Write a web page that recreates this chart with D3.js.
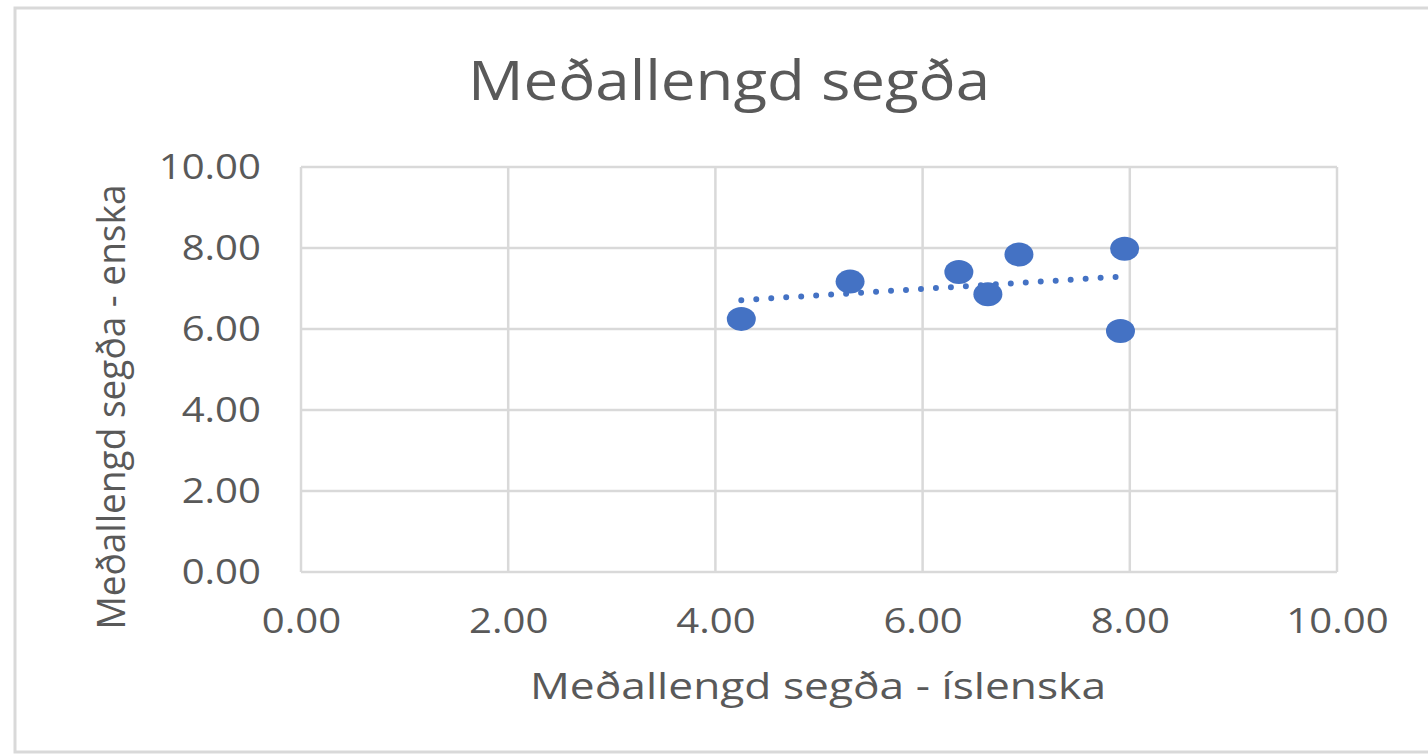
<!DOCTYPE html>
<html>
<head>
<meta charset="utf-8">
<script src="https://cdn.jsdelivr.net/npm/d3@7"></script>
<style>
  html, body { margin: 0; padding: 0; background: #ffffff; }
  svg { display: block; }
  text { font-family: "Open Sans", "Noto Sans", sans-serif; fill: #595959; }
</style>
</head>
<body>
<svg id="chart" width="1428" height="756"></svg>
<script>
// Average sentence length: Icelandic (x) vs English (y)
const islenska = [4.25, 5.30, 6.35, 6.63, 6.93, 7.95, 7.91];
const enska    = [6.25, 7.17, 7.41, 6.86, 7.84, 7.98, 5.95];
const tickValues = [0, 2, 4, 6, 8, 10];

const chartTitle = "Meðallengd segða";
const xTitle = "Meðallengd segða - íslenska";
const yTitle = "Meðallengd segða - enska";

const W = 1428, H = 756;
const plot = { left: 301, right: 1337, top: 167, bottom: 572 };
const gridColor = "#d9d9d9";
const markColor = "#4472C4";
const stretch = 1.18; // horizontal glyph stretch of the chart's text

const svg = d3.select("#chart");

// chart frame
svg.append("rect")
  .attr("x", 15).attr("y", 8)
  .attr("width", W + 20).attr("height", 744)
  .attr("fill", "#ffffff")
  .attr("stroke", gridColor).attr("stroke-width", 3);

const x = d3.scaleLinear().domain([0, 10]).range([plot.left, plot.right]);
const y = d3.scaleLinear().domain([0, 10]).range([plot.bottom, plot.top]);

// gridlines
const grid = svg.append("g");
grid.selectAll("line.v").data(tickValues).join("line")
  .attr("class", "v")
  .attr("x1", d => x(d)).attr("x2", d => x(d))
  .attr("y1", plot.top).attr("y2", plot.bottom)
  .attr("stroke", gridColor).attr("stroke-width", 2.5);
grid.selectAll("line.h").data(tickValues).join("line")
  .attr("class", "h")
  .attr("y1", d => y(d)).attr("y2", d => y(d))
  .attr("x1", plot.left).attr("x2", plot.right)
  .attr("stroke", gridColor).attr("stroke-width", 2.5);

// tick labels via axes (no domain/ticks drawn)
const fmt = d3.format(".2f");
const xAxis = svg.append("g")
  .attr("transform", `translate(0,${plot.bottom})`)
  .call(d3.axisBottom(x).tickValues(tickValues).tickFormat(fmt).tickSize(0).tickPadding(0));
xAxis.select(".domain").remove();
xAxis.selectAll("text")
  .attr("y", 61).attr("dy", null)
  .style("font-size", "34px").attr("fill", "#595959");

const yAxis = svg.append("g")
  .attr("transform", `translate(${plot.left},0)`)
  .call(d3.axisLeft(y).tickValues(tickValues).tickFormat(fmt).tickSize(0).tickPadding(0));
yAxis.select(".domain").remove();
yAxis.selectAll("text")
  .attr("x", -40).attr("dy", "0.35em")
  .style("font-size", "34px").attr("fill", "#595959");
xAxis.attr("font-family", null).attr("font-size", null);
yAxis.attr("font-family", null).attr("font-size", null);

// trendline (least squares over the data)
const mx = d3.mean(islenska), my = d3.mean(enska);
const sxy = d3.sum(islenska, (v, i) => (v - mx) * (enska[i] - my));
const sxx = d3.sum(islenska, v => (v - mx) * (v - mx));
const slope = sxy / sxx, intercept = my - slope * mx;
const [xmin, xmax] = d3.extent(islenska);
svg.append("line")
  .attr("x1", x(xmin)).attr("y1", y(intercept + slope * xmin))
  .attr("x2", x(xmax)).attr("y2", y(intercept + slope * xmax))
  .attr("stroke", markColor).attr("stroke-width", 6)
  .attr("stroke-linecap", "round").attr("stroke-dasharray", "0,15");

// markers
svg.append("g").selectAll("ellipse")
  .data(islenska.map((v, i) => [v, enska[i]]))
  .join("ellipse")
  .attr("cx", d => x(d[0])).attr("cy", d => y(d[1]))
  .attr("rx", 14.5).attr("ry", 12)
  .attr("fill", markColor);

// titles
svg.append("text")
  .attr("x", 729).attr("y", 100).attr("text-anchor", "middle")
  .attr("textLength", 522).attr("lengthAdjust", "spacingAndGlyphs")
  .style("font-size", "54px").text(chartTitle);

svg.append("text")
  .attr("x", 818).attr("y", 699).attr("text-anchor", "middle")
  .attr("textLength", 576).attr("lengthAdjust", "spacingAndGlyphs")
  .style("font-size", "37px").text(xTitle);

svg.append("text")
  .attr("transform", "translate(125,407) rotate(-90)")
  .attr("text-anchor", "middle")
  .attr("textLength", 445).attr("lengthAdjust", "spacingAndGlyphs")
  .style("font-size", "38px").text(yTitle);

// widen tick label glyphs horizontally
svg.selectAll(".tick text").each(function () {
  const len = this.getComputedTextLength();
  d3.select(this).attr("textLength", len * stretch).attr("lengthAdjust", "spacingAndGlyphs");
});
</script>
</body>
</html>
